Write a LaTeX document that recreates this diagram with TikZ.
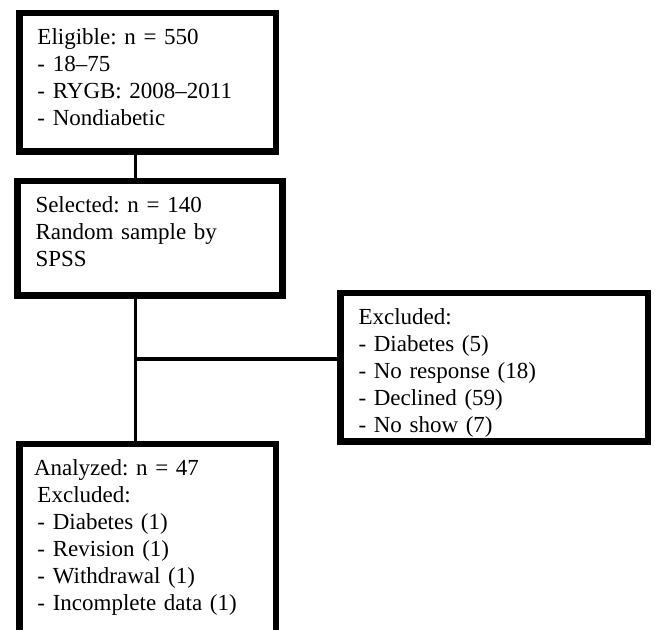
\documentclass[tikz,border=0pt]{standalone}
\usepackage{fontspec}
\setmainfont[WordSpace=0.7]{Liberation Serif}
\usetikzlibrary{positioning}

\begin{document}
\begin{tikzpicture}[box/.style={draw,line width=3.25pt,align=left,inner xsep=9pt,inner ysep=0pt,text height=16pt,font=\fontsize{11.5pt}{13.5pt}\selectfont\frenchspacing},link/.style={line width=1.6pt}]
\useasboundingbox (0,0) rectangle (327.5pt,315pt);
\clip (0,0) rectangle (327.5pt,315pt);
\node[box,anchor=north west,text width=110.25pt,text depth=53.25pt] (elig) at (8.125pt,310.125pt) {Eligible: n = 550\\- 18–75\\- RYGB: 2008–2011\\- Nondiabetic};
\node[box,below right=11.5pt and -1pt of elig.south west,text width=114.5pt,text depth=41.25pt] (sel) {Selected: n = 140\\Random sample by\\SPSS};
\node[box,below right=56pt and 25.75pt of sel.north east,text width=135.75pt,text depth=58.25pt] (excl) {Excluded:\\- Diabetes (5)\\- No response (18)\\- Declined (59)\\- No show (7)};
\node[box,below right=71pt and 1pt of sel.south west,text width=110.25pt,text depth=94pt] (anal) {\hspace*{-1.75pt}Analyzed: n = 47\\Excluded:\\- Diabetes (1)\\- Revision (1)\\- Withdrawal (1)\\- Incomplete data (1)};
\coordinate (split) at (67.75pt,135.5pt);
\draw[link] (elig.south -| split) -- (sel.north -| split);
\draw[link] (sel.south -| split) -- (anal.north -| split);
\draw[link] (split) -- (excl.west |- split);
\end{tikzpicture}
\end{document}
